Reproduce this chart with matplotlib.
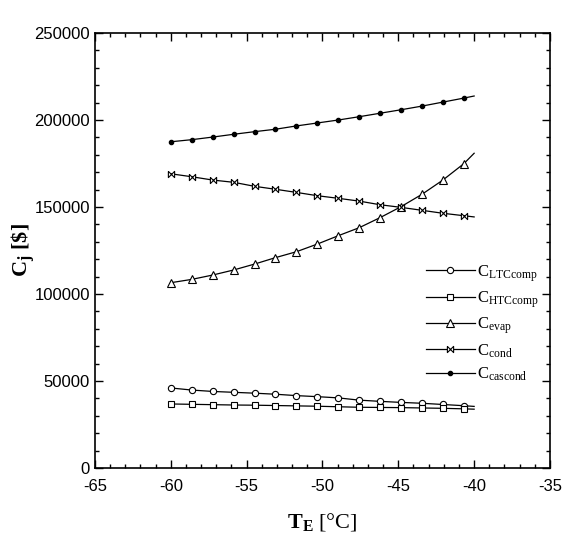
import numpy as np
import matplotlib
matplotlib.use("Agg")
import matplotlib.pyplot as plt
from matplotlib.ticker import MultipleLocator

plt.rcParams['font.family'] = ['Liberation Sans', 'DejaVu Sans']
plt.rcParams['axes.unicode_minus'] = False
plt.rcParams['mathtext.fontset'] = 'custom'
plt.rcParams['mathtext.rm'] = 'Liberation Serif'
plt.rcParams['mathtext.it'] = 'Liberation Serif:italic'
plt.rcParams['mathtext.bf'] = 'Liberation Serif:bold'

# evaporator temperature (marker positions + line end at -40)
t_e = [-60.0, -58.62, -57.24, -55.86, -54.48, -53.1, -51.72, -50.34,
       -48.96, -47.58, -46.2, -44.82, -43.44, -42.06, -40.68, -40.0]

c_ltc_comp = [46000, 44800, 44000, 43500, 43000, 42400, 41600, 41000,
              40300, 39000, 38300, 37700, 37200, 36500, 35800, 35400]
c_htc_comp = [36800, 36600, 36400, 36200, 36100, 35900, 35700, 35500,
              35200, 34900, 34800, 34700, 34500, 34300, 34000, 33800]
c_evap = [106500, 108400, 110900, 113800, 117200, 120900, 124300, 128700,
          133500, 138100, 143900, 150200, 157300, 165500, 174900, 180900]
c_cond = [169100, 167400, 165500, 164200, 161900, 160200, 158400, 156500,
          155000, 153400, 151300, 149800, 148100, 146400, 145000, 144300]
c_cascond = [187500, 188700, 190200, 191800, 193300, 194700, 196600, 198300,
             200000, 201900, 203900, 205900, 208000, 210300, 212600, 213800]

labels = [r'C$_{\mathrm{LTCcomp}}$', r'C$_{\mathrm{HTCcomp}}$', r'C$_{\mathrm{evap}}$',
          r'C$_{\mathrm{cond}}$', r'C$_{\mathrm{cascond}}$']

bowtie = [(-1, 1), (-1, -1), (1, 1), (1, -1), (-1, 1)]

fig = plt.figure(figsize=(5.62, 5.37), dpi=100)
ax = fig.add_axes([0.169, 0.1285, 0.8096, 0.81])

n = len(t_e) - 1  # last point only continues the line
mk = list(range(n))
ax.plot(t_e, c_ltc_comp, color='black', lw=0.9, marker='o', ms=4.5, mfc='white', mec='black', mew=0.8, markevery=mk, label=labels[0])
ax.plot(t_e, c_htc_comp, color='black', lw=0.9, marker='s', ms=4, mfc='white', mec='black', mew=0.8, markevery=mk, label=labels[1])
ax.plot(t_e, c_evap, color='black', lw=0.9, marker='^', ms=6, mfc='white', mec='black', mew=0.8, markevery=mk, label=labels[2])
ax.plot(t_e, c_cond, color='black', lw=0.9, marker=bowtie, ms=4.5, mfc='white', mec='black', mew=0.8, markevery=mk, label=labels[3])
ax.plot(t_e, c_cascond, color='black', lw=0.9, marker='o', ms=3, mfc='black', mec='black', markevery=mk, label=labels[4])

ax.set_xlim(-65, -35)
ax.set_ylim(0, 250000)
ax.xaxis.set_major_locator(MultipleLocator(5))
ax.xaxis.set_minor_locator(MultipleLocator(1))
ax.yaxis.set_major_locator(MultipleLocator(50000))
ax.yaxis.set_minor_locator(MultipleLocator(10000))
ax.tick_params(which='both', direction='in', top=True, right=True, labelsize=12, color='black')
ax.tick_params(which='major', length=6, width=1)
ax.tick_params(which='minor', length=3, width=1)
ax.tick_params(axis='x', pad=8)
for s in ax.spines.values():
    s.set_linewidth(1.2)

ax.set_xlabel(r'$\mathbf{T_E}$ [$\degree$C]', fontsize=16, family='Liberation Serif', labelpad=12)
ax.set_ylabel(r'$\mathbf{C_j}$ [\$]', fontsize=16, family='Liberation Serif', fontweight='bold', labelpad=-2)

ax.legend(loc='upper left', bbox_to_anchor=(0.695, 0.506), frameon=False,
          prop={'family': 'Liberation Serif', 'size': 12}, handlelength=2.9,
          labelspacing=0.35, handletextpad=0.15)

fig.savefig('out.png', dpi=100)
